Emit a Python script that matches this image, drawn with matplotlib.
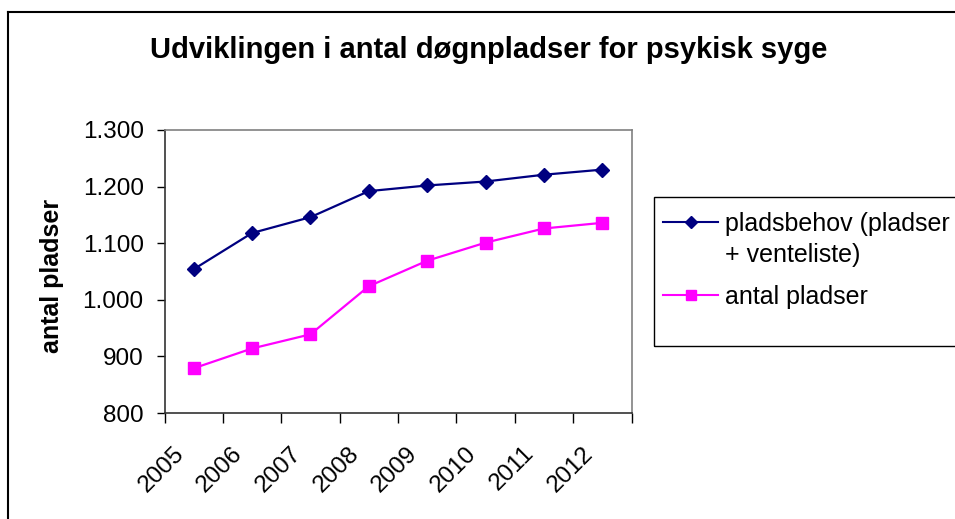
import matplotlib
matplotlib.use("Agg")
import matplotlib.pyplot as plt
from matplotlib.lines import Line2D
from matplotlib.patches import Rectangle
from matplotlib.transforms import ScaledTranslation

plt.rcParams['font.family'] = ['Liberation Sans', 'DejaVu Sans']

years = ["2005", "2006", "2007", "2008", "2009", "2010", "2011", "2012"]
pladsbehov = [1054, 1118, 1146, 1192, 1202, 1209, 1221, 1230]
antal_pladser = [879, 914, 939, 1024, 1069, 1101, 1126, 1136]
series_names = ["pladsbehov (pladser\n+ venteliste)", "antal pladser"]
yticks = [800, 900, 1000, 1100, 1200, 1300]
ytick_labels = ["800", "900", "1.000", "1.100", "1.200", "1.300"]

W, H = 955, 519
fig = plt.figure(figsize=(W / 100, H / 100), dpi=100)

def fx(px):
    return px / W

def fy(py):
    return 1 - py / H

ax = fig.add_axes([fx(164.5), fy(413), fx(631.5) - fx(164.5), fy(130) - fy(413)])

x = list(range(len(years)))
navy = "#000080"
pink = "#FF00FF"
ax.plot(x, pladsbehov, color=navy, lw=1.6, marker='D', ms=7.3, mfc=navy, mec=navy)
ax.plot(x, antal_pladser, color=pink, lw=1.6, marker='s', ms=9, mfc=pink, mec=pink)

ax.set_xlim(-0.5, len(years) - 0.5)
ax.set_ylim(800, 1300)
ax.set_yticks(yticks)
ax.set_yticklabels(ytick_labels, fontsize=17.5)
ax.tick_params(axis='y', direction='out', length=6, width=1, pad=9, colors='black')

ax.set_xticks([i - 0.5 for i in range(len(years) + 1)])
ax.set_xticklabels([])
ax.tick_params(axis='x', which='major', direction='out', length=7, width=1)
ax.set_xticks(x, minor=True)
ax.set_xticklabels(years, minor=True, fontsize=17.5, rotation=45, ha='right', va='center',
                   rotation_mode='anchor')
ax.tick_params(axis='x', which='minor', length=0, pad=0)
for lbl in ax.get_xticklabels(minor=True):
    lbl.set_transform(lbl.get_transform() + ScaledTranslation(-13 / 100, -37 / 100, fig.dpi_scale_trans))

for s in ['top', 'right']:
    ax.spines[s].set_color('#808080')
    ax.spines[s].set_linewidth(1.2)
for s in ['left', 'bottom']:
    ax.spines[s].set_color('#333333')
    ax.spines[s].set_linewidth(1.2)

fig.text(fx(52), fy(276), "antal pladser", fontsize=18, fontweight='bold',
         rotation=90, ha='center', va='center')

fig.text(fx(489), fy(50), "Udviklingen i antal døgnpladser for psykisk syge",
         fontsize=21, fontweight='bold', ha='center', va='center')

# outer chart border (top and left visible)
fig.add_artist(Line2D([fx(8), 1.0], [fy(12), fy(12)], transform=fig.transFigure,
                      color='black', lw=1.5))
fig.add_artist(Line2D([fx(8), fx(8)], [fy(12), 0.0], transform=fig.transFigure,
                      color='black', lw=1.5))

# legend box
fig.add_artist(Rectangle((fx(654), fy(346)), 1.2 - fx(654), fy(197) - fy(346),
                         transform=fig.transFigure, fill=False, edgecolor='black', lw=1.0))
entries = [(series_names[0], navy, 'D', 6, 222), (series_names[1], pink, 's', 7, 295)]
for name, col, mk, ms, py in entries:
    fig.add_artist(Line2D([fx(663), fx(718)], [fy(py), fy(py)], transform=fig.transFigure,
                          color=col, lw=1.5))
    fig.add_artist(Line2D([fx(690.5)], [fy(py)], transform=fig.transFigure,
                          color=col, marker=mk, ms=ms, mfc=col, mec=col, lw=0))
    fig.text(fx(725), fy(py - 10), name, fontsize=18, ha='left', va='top',
             linespacing=1.38)

fig.savefig("out.png", dpi=100)
